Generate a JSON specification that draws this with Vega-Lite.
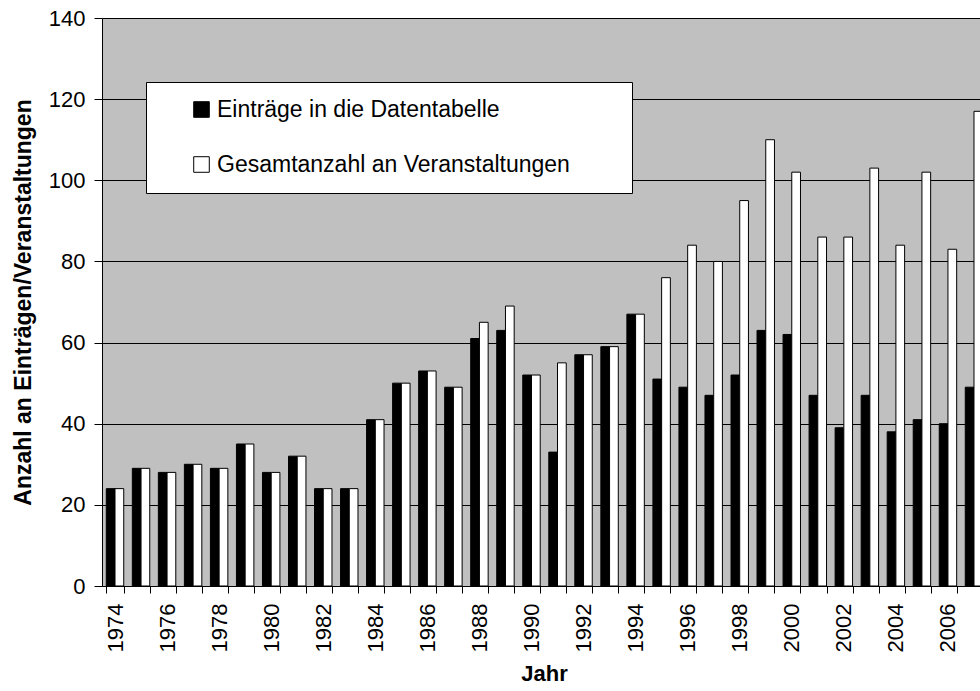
{
  "$schema": "https://vega.github.io/schema/vega-lite/v6.json",
  "autosize": {"type": "none"},
  "width": 878,
  "height": 568,
  "padding": {"left": 102, "top": 18, "right": 0, "bottom": 105},
  "background": "#ffffff",
  "config": {
    "font": "Liberation Sans",
    "view": {"fill": "#C0C0C0", "stroke": null}
  },
  "data": {
    "values": [
      {"year": 1974, "series": "Einträge in die Datentabelle", "value": 24},
      {"year": 1974, "series": "Gesamtanzahl an Veranstaltungen", "value": 24},
      {"year": 1975, "series": "Einträge in die Datentabelle", "value": 29},
      {"year": 1975, "series": "Gesamtanzahl an Veranstaltungen", "value": 29},
      {"year": 1976, "series": "Einträge in die Datentabelle", "value": 28},
      {"year": 1976, "series": "Gesamtanzahl an Veranstaltungen", "value": 28},
      {"year": 1977, "series": "Einträge in die Datentabelle", "value": 30},
      {"year": 1977, "series": "Gesamtanzahl an Veranstaltungen", "value": 30},
      {"year": 1978, "series": "Einträge in die Datentabelle", "value": 29},
      {"year": 1978, "series": "Gesamtanzahl an Veranstaltungen", "value": 29},
      {"year": 1979, "series": "Einträge in die Datentabelle", "value": 35},
      {"year": 1979, "series": "Gesamtanzahl an Veranstaltungen", "value": 35},
      {"year": 1980, "series": "Einträge in die Datentabelle", "value": 28},
      {"year": 1980, "series": "Gesamtanzahl an Veranstaltungen", "value": 28},
      {"year": 1981, "series": "Einträge in die Datentabelle", "value": 32},
      {"year": 1981, "series": "Gesamtanzahl an Veranstaltungen", "value": 32},
      {"year": 1982, "series": "Einträge in die Datentabelle", "value": 24},
      {"year": 1982, "series": "Gesamtanzahl an Veranstaltungen", "value": 24},
      {"year": 1983, "series": "Einträge in die Datentabelle", "value": 24},
      {"year": 1983, "series": "Gesamtanzahl an Veranstaltungen", "value": 24},
      {"year": 1984, "series": "Einträge in die Datentabelle", "value": 41},
      {"year": 1984, "series": "Gesamtanzahl an Veranstaltungen", "value": 41},
      {"year": 1985, "series": "Einträge in die Datentabelle", "value": 50},
      {"year": 1985, "series": "Gesamtanzahl an Veranstaltungen", "value": 50},
      {"year": 1986, "series": "Einträge in die Datentabelle", "value": 53},
      {"year": 1986, "series": "Gesamtanzahl an Veranstaltungen", "value": 53},
      {"year": 1987, "series": "Einträge in die Datentabelle", "value": 49},
      {"year": 1987, "series": "Gesamtanzahl an Veranstaltungen", "value": 49},
      {"year": 1988, "series": "Einträge in die Datentabelle", "value": 61},
      {"year": 1988, "series": "Gesamtanzahl an Veranstaltungen", "value": 65},
      {"year": 1989, "series": "Einträge in die Datentabelle", "value": 63},
      {"year": 1989, "series": "Gesamtanzahl an Veranstaltungen", "value": 69},
      {"year": 1990, "series": "Einträge in die Datentabelle", "value": 52},
      {"year": 1990, "series": "Gesamtanzahl an Veranstaltungen", "value": 52},
      {"year": 1991, "series": "Einträge in die Datentabelle", "value": 33},
      {"year": 1991, "series": "Gesamtanzahl an Veranstaltungen", "value": 55},
      {"year": 1992, "series": "Einträge in die Datentabelle", "value": 57},
      {"year": 1992, "series": "Gesamtanzahl an Veranstaltungen", "value": 57},
      {"year": 1993, "series": "Einträge in die Datentabelle", "value": 59},
      {"year": 1993, "series": "Gesamtanzahl an Veranstaltungen", "value": 59},
      {"year": 1994, "series": "Einträge in die Datentabelle", "value": 67},
      {"year": 1994, "series": "Gesamtanzahl an Veranstaltungen", "value": 67},
      {"year": 1995, "series": "Einträge in die Datentabelle", "value": 51},
      {"year": 1995, "series": "Gesamtanzahl an Veranstaltungen", "value": 76},
      {"year": 1996, "series": "Einträge in die Datentabelle", "value": 49},
      {"year": 1996, "series": "Gesamtanzahl an Veranstaltungen", "value": 84},
      {"year": 1997, "series": "Einträge in die Datentabelle", "value": 47},
      {"year": 1997, "series": "Gesamtanzahl an Veranstaltungen", "value": 80},
      {"year": 1998, "series": "Einträge in die Datentabelle", "value": 52},
      {"year": 1998, "series": "Gesamtanzahl an Veranstaltungen", "value": 95},
      {"year": 1999, "series": "Einträge in die Datentabelle", "value": 63},
      {"year": 1999, "series": "Gesamtanzahl an Veranstaltungen", "value": 110},
      {"year": 2000, "series": "Einträge in die Datentabelle", "value": 62},
      {"year": 2000, "series": "Gesamtanzahl an Veranstaltungen", "value": 102},
      {"year": 2001, "series": "Einträge in die Datentabelle", "value": 47},
      {"year": 2001, "series": "Gesamtanzahl an Veranstaltungen", "value": 86},
      {"year": 2002, "series": "Einträge in die Datentabelle", "value": 39},
      {"year": 2002, "series": "Gesamtanzahl an Veranstaltungen", "value": 86},
      {"year": 2003, "series": "Einträge in die Datentabelle", "value": 47},
      {"year": 2003, "series": "Gesamtanzahl an Veranstaltungen", "value": 103},
      {"year": 2004, "series": "Einträge in die Datentabelle", "value": 38},
      {"year": 2004, "series": "Gesamtanzahl an Veranstaltungen", "value": 84},
      {"year": 2005, "series": "Einträge in die Datentabelle", "value": 41},
      {"year": 2005, "series": "Gesamtanzahl an Veranstaltungen", "value": 102},
      {"year": 2006, "series": "Einträge in die Datentabelle", "value": 40},
      {"year": 2006, "series": "Gesamtanzahl an Veranstaltungen", "value": 83},
      {"year": 2007, "series": "Einträge in die Datentabelle", "value": 49},
      {"year": 2007, "series": "Gesamtanzahl an Veranstaltungen", "value": 117}
    ]
  },
  "mark": {"type": "bar", "stroke": "#000000", "strokeWidth": 1},
  "encoding": {
    "x": {
      "field": "year",
      "type": "ordinal",
      "scale": {"range": [0, 885], "paddingInner": 0.33, "paddingOuter": 0.165},
      "axis": {
        "title": "Jahr",
        "titleFont": "Liberation Sans",
        "titleFontSize": 22,
        "titleFontWeight": "bold",
        "titleColor": "#000000",
        "titlePadding": 12,
        "titleX": 442,
        "labelAngle": -90,
        "labelFontSize": 22,
        "labelColor": "#000000",
        "labelPadding": 10,
        "labelOverlap": false,
        "labelExpr": "datum.value % 2 == 0 ? datum.label : ''",
        "tickBand": "extent",
        "tickSize": 7,
        "tickColor": "#000000",
        "domainColor": "#000000",
        "grid": false
      }
    },
    "xOffset": {
      "field": "series",
      "type": "nominal",
      "sort": ["Einträge in die Datentabelle", "Gesamtanzahl an Veranstaltungen"],
      "scale": {"paddingInner": 0, "paddingOuter": 0}
    },
    "y": {
      "field": "value",
      "type": "quantitative",
      "scale": {"domain": [0, 140], "nice": false},
      "axis": {
        "title": "Anzahl an Einträgen/Veranstaltungen",
        "titleFont": "Liberation Sans",
        "titleFontSize": 23,
        "titleFontWeight": "bold",
        "titleColor": "#000000",
        "titlePadding": 13,
        "values": [0, 20, 40, 60, 80, 100, 120, 140],
        "labelFontSize": 22,
        "labelColor": "#000000",
        "labelPadding": 9,
        "tickSize": 8,
        "tickColor": "#000000",
        "domainColor": "#000000",
        "gridColor": "#000000",
        "gridWidth": 1,
        "gridOpacity": 1
      }
    },
    "color": {
      "field": "series",
      "type": "nominal",
      "scale": {
        "domain": ["Einträge in die Datentabelle", "Gesamtanzahl an Veranstaltungen"],
        "range": ["#000000", "#ffffff"]
      },
      "legend": {
        "title": "x",
        "titleOrient": "right",
        "titleFontSize": 1,
        "titleColor": "rgba(0,0,0,0)",
        "titlePadding": 45,
        "orient": "none",
        "legendX": 44,
        "legendY": 64,
        "fillColor": "#ffffff",
        "strokeColor": "#000000",
        "padding": 16,
        "symbolType": "square",
        "symbolSize": 243,
        "symbolStrokeColor": "#000000",
        "symbolStrokeWidth": 1,
        "symbolOffset": 28,
        "labelOffset": 4,
        "labelFontSize": 23,
        "labelColor": "#000000",
        "labelLimit": 600,
        "rowPadding": 31
      }
    }
  }
}
